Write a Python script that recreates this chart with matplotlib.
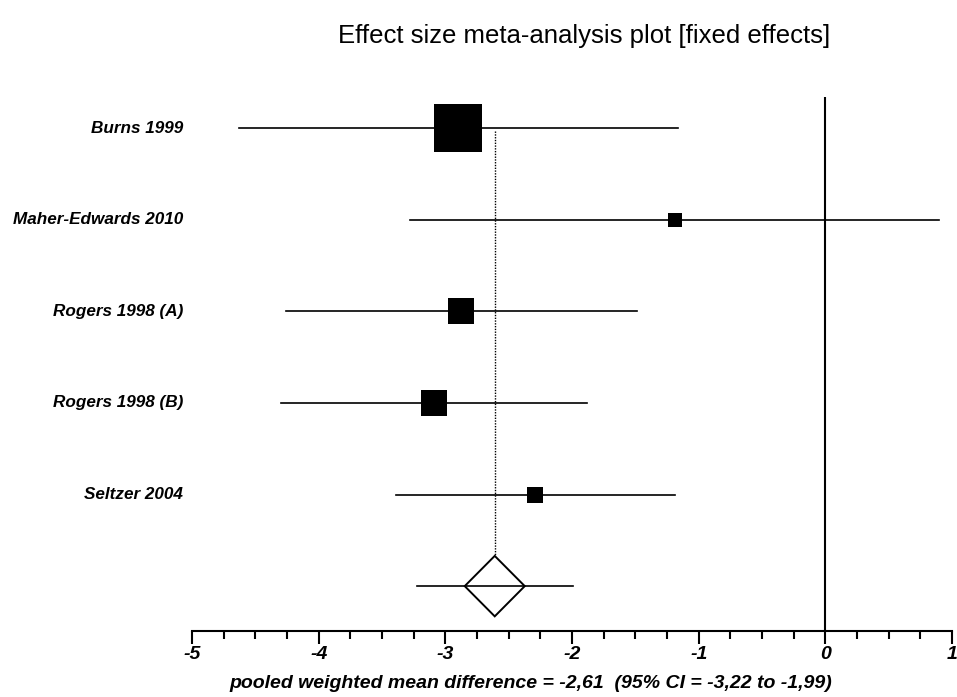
import numpy as np
import matplotlib.pyplot as plt
from matplotlib.patches import Polygon
from matplotlib.ticker import MultipleLocator

plt.rcParams['font.family'] = ['Liberation Sans', 'DejaVu Sans']
plt.rcParams['axes.unicode_minus'] = False

# Estudios incluidos
estudios = ["Burns 1999", "Maher-Edwards 2010", "Rogers 1998 (A)",
            "Rogers 1998 (B)", "Seltzer 2004"]
dif_media = [-2.90, -1.19, -2.88, -3.09, -2.29]
ic_inf = [-4.63, -3.28, -4.26, -4.30, -3.39]
ic_sup = [-1.16, 0.90, -1.49, -1.88, -1.19]
peso = [48, 14, 27, 27, 16]   # peso relativo (lado del cuadro)

# Estimacion combinada
combinada = -2.61
comb_inf = -3.22
comb_sup = -1.99

fig = plt.figure(figsize=(9.57, 6.97), dpi=100)
ax = fig.add_axes([192 / 957, 1 - 631 / 697, 760 / 957, 534 / 697])

filas = np.arange(len(estudios))
fila_comb = len(estudios)

# Intervalos y cuadros de cada estudio
for i in filas:
    ax.plot([ic_inf[i], ic_sup[i]], [i, i], color='black', lw=1.2, zorder=2)
    lado = peso[i] * 0.72
    ax.scatter(dif_media[i], i, marker='s', s=lado ** 2, color='black',
               linewidths=0, zorder=3)

# Diamante de la estimacion combinada
ax.plot([comb_inf, comb_sup], [fila_comb, fila_comb], color='black', lw=1.2)
dx, dy = 0.237, 0.33
diamante = Polygon([[combinada - dx, fila_comb], [combinada, fila_comb - dy],
                    [combinada + dx, fila_comb], [combinada, fila_comb + dy]],
                   closed=True, fill=False, edgecolor='black', lw=1.4)
ax.add_patch(diamante)

# Linea punteada de la estimacion combinada y linea de no efecto
ax.plot([combinada, combinada], [0.03, fila_comb - dy], color='black',
        lw=1.0, linestyle=(0, (1, 1)))
ax.axvline(0, color='black', lw=1.5)

ax.set_xlim(-5, 1)
ax.set_ylim(5.49, -0.34)

for s in ['top', 'right', 'left']:
    ax.spines[s].set_visible(False)
ax.spines['bottom'].set_linewidth(1.5)
ax.set_yticks([])
ax.xaxis.set_major_locator(MultipleLocator(1))
ax.xaxis.set_minor_locator(MultipleLocator(0.25))
ax.tick_params(axis='x', which='major', length=9, width=1.5, pad=2,
               labelsize=14)
ax.tick_params(axis='x', which='minor', length=5.5, width=1.5)
for t in ax.get_xticklabels():
    t.set_fontweight('bold')
    t.set_fontstyle('italic')

# Nombres de los estudios
for i in filas:
    ax.text(-5.07, i, estudios[i], ha='right', va='center', fontsize=12.3,
            fontweight='bold', fontstyle='italic')

fig.text(584 / 957, 1 - 36 / 697, "Effect size meta-analysis plot [fixed effects]",
         ha='center', va='center', fontsize=18.5)
fig.text(531 / 957, 1 - 684 / 697,
         "pooled weighted mean difference = -2,61  (95% CI = -3,22 to -1,99)",
         ha='center', va='center', fontsize=14, fontweight='bold',
         fontstyle='italic')

fig.savefig("out.png", dpi=100)
